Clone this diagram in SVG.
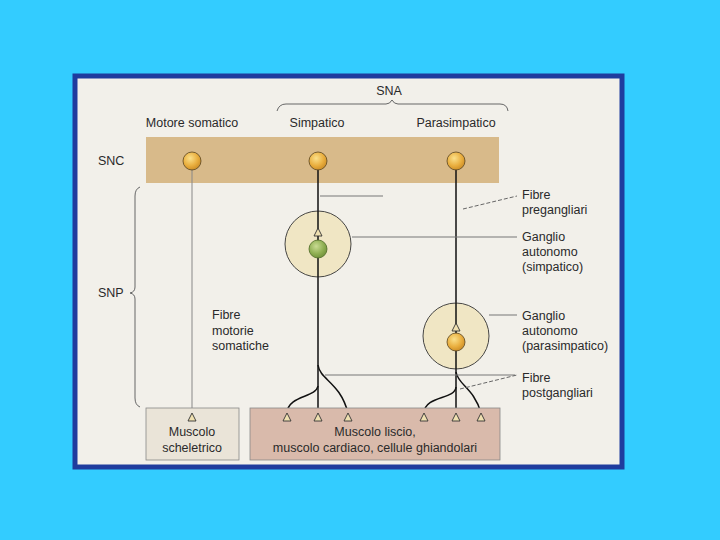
<svg xmlns="http://www.w3.org/2000/svg" width="720" height="540" viewBox="0 0 720 540">
<defs>
<radialGradient id="gold" cx="0.4" cy="0.35" r="0.7">
<stop offset="0" stop-color="#FBE08A"/>
<stop offset="0.6" stop-color="#E9AE3E"/>
<stop offset="1" stop-color="#C98A24"/>
</radialGradient>
<radialGradient id="green" cx="0.4" cy="0.35" r="0.7">
<stop offset="0" stop-color="#C9DB93"/>
<stop offset="0.6" stop-color="#8FAF52"/>
<stop offset="1" stop-color="#6E8F38"/>
</radialGradient>
<style>
text{font-family:"Liberation Sans",Arial,sans-serif;font-size:12.5px;fill:#2a2a2a}
.mid{text-anchor:middle}
.soma{stroke:#5a4520;stroke-width:0.8}
.gang{fill:#F0E6C4;stroke:#333;stroke-width:0.9}
.axon{stroke:#111;stroke-width:1.5;fill:none}
.thin{stroke:#888;stroke-width:1;fill:none}
.lead{stroke:#777;stroke-width:1;fill:none}
.dash{stroke:#666;stroke-width:1;fill:none;stroke-dasharray:4 2}
.term{fill:#EFE0B0;stroke:#333;stroke-width:0.9}
.brace{stroke:#666;stroke-width:1;fill:none}
</style>
</defs>
<rect width="720" height="540" fill="#33CCFF"/>
<rect x="75" y="76" width="547" height="391" fill="#F2F0EA" stroke="#1F3C9E" stroke-width="5"/>

<g id="headers">
<text x="389" y="95" class="mid">SNA</text>
<path class="brace" d="M277,111 Q279,104 286,104 L386,104 Q390,104 392,100 Q394,104 398,104 L500,104 Q507,104 508,111"/>
<text x="192" y="127" class="mid">Motore somatico</text>
<text x="317" y="127" class="mid">Simpatico</text>
<text x="456" y="127" class="mid">Parasimpatico</text>
</g>

<g id="snc">
<rect x="146" y="137" width="353" height="46" fill="#D8BA8A"/>
<text x="98" y="165">SNC</text>
</g>

<g id="snp">
<text x="98" y="297">SNP</text>
<path class="brace" d="M140,187 Q135,189 135,196 L135,287 Q135,292 130,293 Q135,294 135,299 L135,398 Q135,405 140,407"/>
</g>

<g id="connectors">
<line class="thin" x1="192" y1="168" x2="192" y2="413"/>
<line class="axon" x1="318" y1="168" x2="318" y2="413"/>
<line class="axon" x1="456" y1="168" x2="456" y2="413" stroke-width="2"/>
<path class="axon" d="M318,386 C316,398 288,395 287,413"/>
<path class="axon" d="M318,365 C320,380 340,382 348,413"/>
<path class="axon" d="M456,387 C455,400 425,395 424,413"/>
<path class="axon" d="M456,372 C458,385 474,388 481,413"/>
<line class="lead" x1="320" y1="196" x2="383" y2="196" stroke="#aaa"/>
<line class="dash" x1="463" y1="209" x2="517" y2="196"/>
<line class="lead" x1="352" y1="237" x2="517" y2="237"/>
<line class="lead" x1="489" y1="315" x2="517" y2="315"/>
<line class="lead" x1="325" y1="375" x2="515" y2="375"/>
<line class="dash" x1="460" y1="389" x2="517" y2="375"/>
</g>

<g id="neuron-somatic">
<circle cx="192" cy="161" r="9" fill="url(#gold)" class="soma"/>
</g>
<g id="neuron-sympathetic">
<circle cx="318" cy="161" r="9" fill="url(#gold)" class="soma"/>
</g>
<g id="neuron-parasympathetic">
<circle cx="456" cy="161" r="9" fill="url(#gold)" class="soma"/>
</g>

<g id="ganglion-sympathetic">
<circle cx="318" cy="244" r="33" class="gang"/>
<line class="axon" x1="318" y1="211" x2="318" y2="277"/>
<polygon class="term" points="318,228 314,236 322,236"/>
<circle cx="318" cy="249" r="9" fill="url(#green)" stroke="#4d6a26" stroke-width="0.8"/>
</g>

<g id="ganglion-parasympathetic">
<circle cx="456" cy="336" r="33" class="gang"/>
<line class="axon" x1="456" y1="303" x2="456" y2="369" stroke-width="2"/>
<polygon class="term" points="456,323 452,331 460,331"/>
<circle cx="456" cy="342" r="9" fill="url(#gold)" class="soma"/>
</g>

<g id="label-fibre-motorie">
<text x="212" y="319">Fibre</text>
<text x="212" y="335">motorie</text>
<text x="212" y="350">somatiche</text>
</g>
<g id="label-pregangliari">
<text x="522" y="199">Fibre</text>
<text x="522" y="214">pregangliari</text>
</g>
<g id="label-ganglio-simpatico">
<text x="522" y="241">Ganglio</text>
<text x="522" y="256">autonomo</text>
<text x="522" y="271">(simpatico)</text>
</g>
<g id="label-ganglio-parasimpatico">
<text x="522" y="320">Ganglio</text>
<text x="522" y="335">autonomo</text>
<text x="522" y="350">(parasimpatico)</text>
</g>
<g id="label-postgangliari">
<text x="522" y="382">Fibre</text>
<text x="522" y="397">postgangliari</text>
</g>

<g id="muscolo-scheletrico">
<rect x="146" y="408" width="93" height="52" fill="#EAE4D8" stroke="#888" stroke-width="0.8"/>
<polygon class="term" points="192,413 188,421 196,421"/>
<text x="192" y="436" class="mid">Muscolo</text>
<text x="192" y="452" class="mid">scheletrico</text>
</g>

<g id="muscolo-liscio">
<rect x="250" y="408" width="250" height="52" fill="#D9BAAB" stroke="#888" stroke-width="0.8"/>
<polygon class="term" points="287,413 283,421 291,421"/>
<polygon class="term" points="318,413 314,421 322,421"/>
<polygon class="term" points="348,413 344,421 352,421"/>
<polygon class="term" points="424,413 420,421 428,421"/>
<polygon class="term" points="456,413 452,421 460,421"/>
<polygon class="term" points="481,413 477,421 485,421"/>
<text x="375" y="436" class="mid">Muscolo liscio,</text>
<text x="375" y="452" class="mid">muscolo cardiaco, cellule ghiandolari</text>
</g>
</svg>
